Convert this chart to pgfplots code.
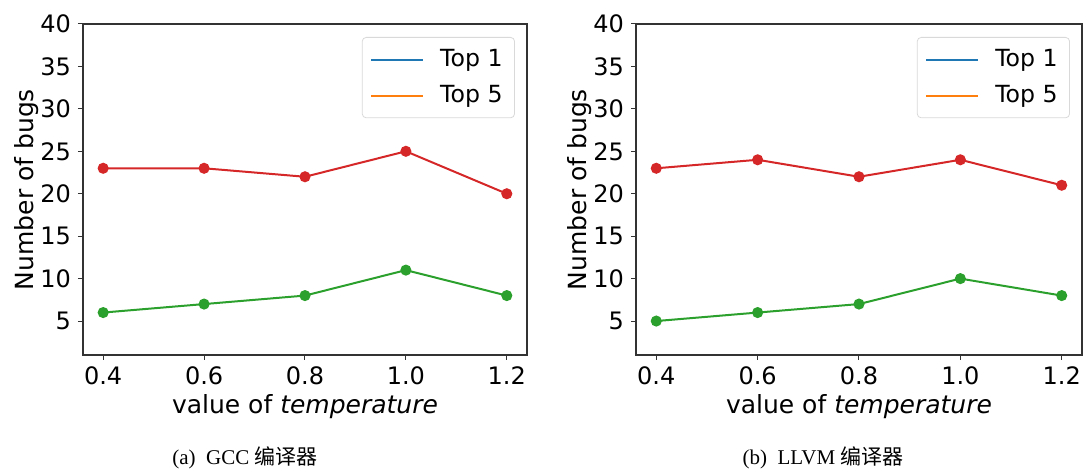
\documentclass[border=0pt]{standalone}
\usepackage{pgfplots}
\pgfplotsset{compat=1.18}
\usepackage{fontspec}
\setmainfont{DejaVu Sans}
\newfontfamily\capfont{Liberation Serif}
\newfontfamily\cjk{Noto Sans CJK SC}
\definecolor{tabred}{HTML}{D62728}
\definecolor{tabgreen}{HTML}{2CA02C}
\definecolor{tabblue}{HTML}{1F77B4}
\definecolor{taborange}{HTML}{FF7F0E}

\pgfplotsset{
  bugaxis/.style={
    scale only axis,
    width=222pt, height=165.5pt,
    xmin=0.36, xmax=1.24, ymin=1, ymax=40,
    xtick={0.4,0.6,0.8,1.0,1.2},
    xticklabels={0.4,0.6,0.8,1.0,1.2},
    ytick={5,10,...,40},
    tick align=outside, xtick pos=bottom, ytick pos=left,
    major tick length=2.5pt,
    tick style={black!80, line width=0.5pt},
    axis line style={black!80, line width=0.6pt},
    ticklabel style={font=\fontsize{12}{14}\selectfont},
    /pgf/number format/assume math mode=true,
    label style={font=\fontsize{12.5}{15}\selectfont},
    xlabel={value of \textit{temperature}},
    ylabel={Number of bugs},
    xlabel style={yshift=2pt},
    ylabel style={yshift=-6pt},
    legend style={
      at={(1,1)}, anchor=north east, xshift=-6pt, yshift=-6.5pt,
      draw=black!15, rounded corners=2pt, fill=white,
      font=\fontsize{11.8}{14}\selectfont,
      inner xsep=4pt, inner ysep=4pt,
      row sep=4pt,
      /tikz/every even column/.append style={column sep=6pt},
      /tikz/every odd column/.append style={column sep=6pt},
    },
    legend cell align=left,
    legend image code/.code={\draw[#1] (0pt,0pt) -- (26pt,0pt);},
    every axis plot/.append style={line width=1pt, mark=*, mark size=2.25pt},
  }
}

\begin{document}
\begin{tikzpicture}
\useasboundingbox (0,0) rectangle (541.5pt,235pt);

% (a) GCC
\begin{axis}[bugaxis, at={(41.5pt,57.5pt)}, anchor=south west]
\addlegendimage{tabblue, line width=1pt, no marks}
\addlegendentry{Top 1}
\addlegendimage{taborange, line width=1pt, no marks}
\addlegendentry{Top 5}
\addplot[tabred, mark options={fill=tabred}, forget plot] coordinates {
  (0.4,23) (0.6,23) (0.8,22) (1.0,25) (1.2,20)
};
\addplot[tabgreen, mark options={fill=tabgreen}, forget plot] coordinates {
  (0.4,6) (0.6,7) (0.8,8) (1.0,11) (1.2,8)
};
\end{axis}

% (b) LLVM
\begin{axis}[bugaxis, width=223pt, at={(318pt,57.5pt)}, anchor=south west]
\addlegendimage{tabblue, line width=1pt, no marks}
\addlegendentry{Top 1}
\addlegendimage{taborange, line width=1pt, no marks}
\addlegendentry{Top 5}
\addplot[tabred, mark options={fill=tabred}, forget plot] coordinates {
  (0.4,23) (0.6,24) (0.8,22) (1.0,24) (1.2,21)
};
\addplot[tabgreen, mark options={fill=tabgreen}, forget plot] coordinates {
  (0.4,5) (0.6,6) (0.8,7) (1.0,10) (1.2,8)
};
\end{axis}

\node[anchor=base, inner sep=0pt, font=\fontsize{10.5}{12}\selectfont] at (122.5pt,2.5pt)
  {\capfont (a)\hspace{0.5em}GCC {\cjk 编译器}};
\node[anchor=base, inner sep=0pt, font=\fontsize{10.5}{12}\selectfont] at (411.5pt,2.5pt)
  {\capfont (b)\hspace{0.5em}LLVM {\cjk 编译器}};
\end{tikzpicture}
\end{document}
